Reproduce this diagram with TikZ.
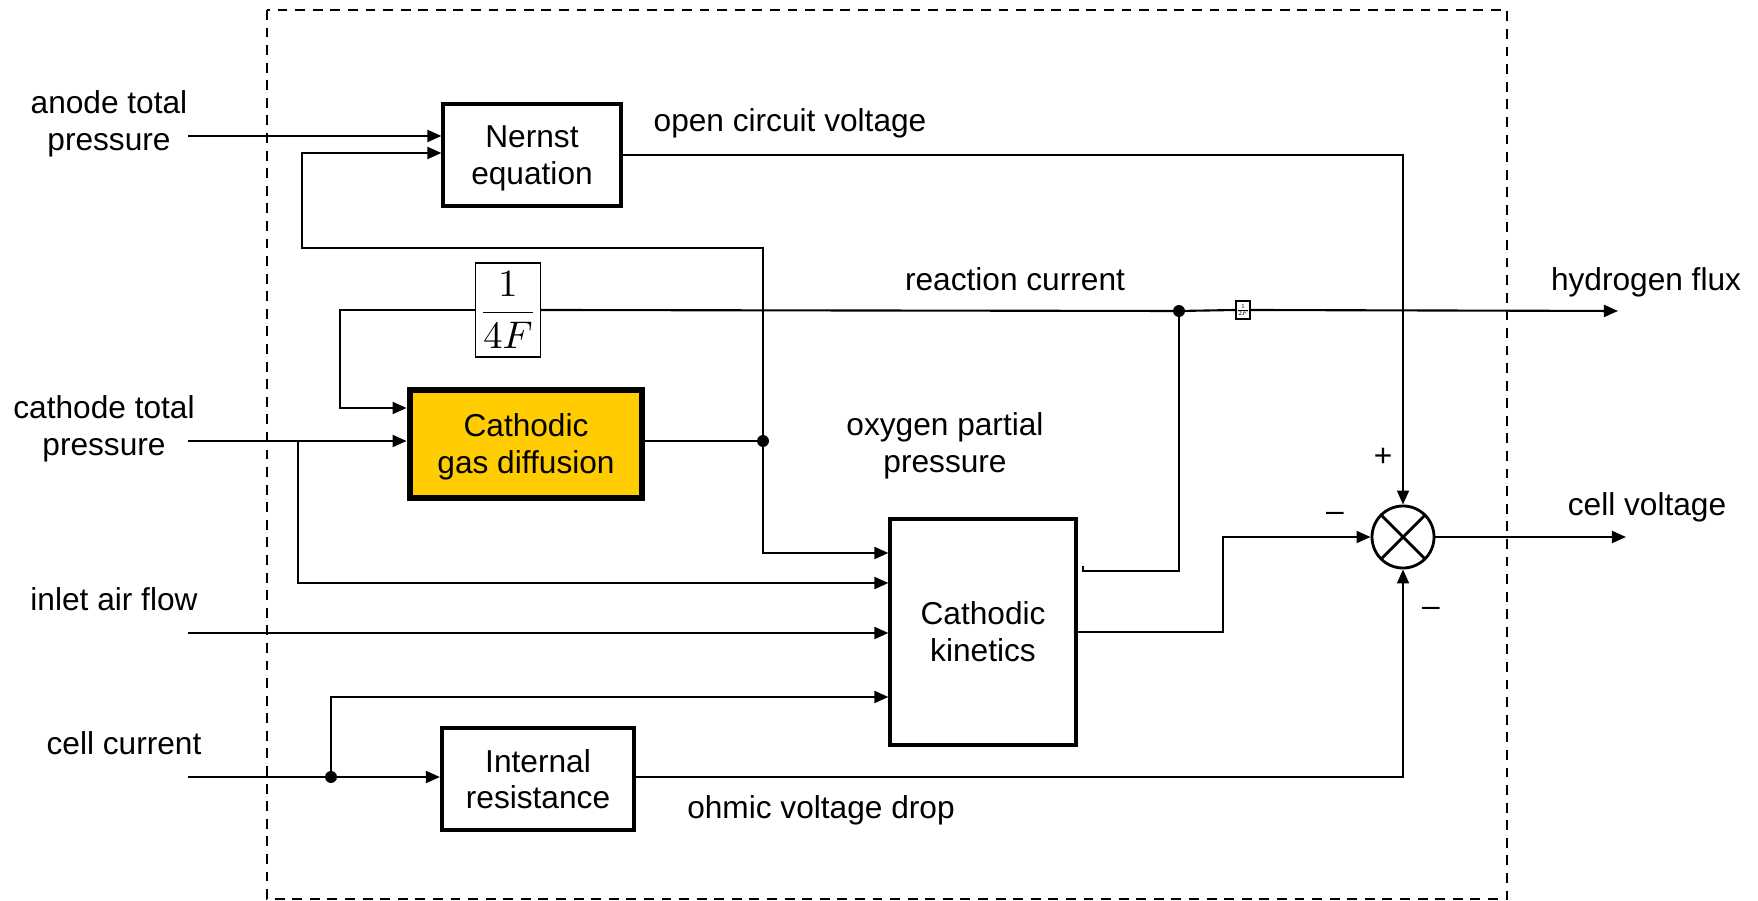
\documentclass[tikz,border=0pt]{standalone}
\usepackage{fontspec}
\setmainfont{Liberation Sans}
\usetikzlibrary{arrows.meta}
\definecolor{gold}{RGB}{255,204,0}

\begin{document}
\begin{tikzpicture}[x=0.01cm, y=-0.01cm,
    font=\fontsize{9}{10.5}\selectfont,
    line width=0.6pt,
    blk/.style={draw, line width=1.15pt, align=center, inner sep=0pt, text depth=0pt},
    arr/.style={-{Triangle[length=4pt,width=3.4pt]}},
    dot/.style={circle, fill, inner sep=0pt, minimum size=3.4pt},
    lbl/.style={align=center, inner sep=0pt, text depth=0pt},
]
\useasboundingbox (0,0) rectangle (1758,901);

% subsystem frame
\draw[dash pattern=on 2.8pt off 2.2pt] (267,10) rectangle (1507,899);

% blocks
\node[blk, minimum width=1.77cm, minimum height=1.02cm] (nernst) at (532,155) {Nernst\\equation};
\node[draw, line width=0.4pt, minimum width=0.65cm, minimum height=0.94cm, inner sep=0pt,
      font=\fontsize{11}{13}\selectfont] (gain) at (508,310) {$\displaystyle\frac{1}{4F}$};
\node[blk, line width=1.9pt, fill=gold, minimum width=2.32cm, minimum height=1.08cm] (diff) at (526,444) {Cathodic\\gas diffusion};
\node[blk, minimum width=1.85cm, minimum height=2.25cm] (kin) at (983,632) {Cathodic\\kinetics};
\node[blk, minimum width=1.92cm, minimum height=1.02cm] (ir) at (538,779) {Internal\\resistance};
\node[draw, circle, minimum size=0.62cm, line width=0.8pt,
      path picture={\draw[line width=0.8pt]
        (path picture bounding box.north west) -- (path picture bounding box.south east)
        (path picture bounding box.north east) -- (path picture bounding box.south west);}] (sum) at (1403,537) {};
\node[draw, line width=0.4pt, minimum width=0.14cm, minimum height=0.18cm, inner sep=0pt] (half) at (1243,310) {\scalebox{0.3}{$\frac{1}{2F}$}};

% labels
\node[lbl] (anodeLbl) at (109,121) {anode total\\pressure};
\node[lbl] (cathLbl) at (104,426) {cathode total\\pressure};
\node[lbl] (airLbl) at (114,599) {inlet air flow};
\node[lbl] (curLbl) at (124,743) {cell current};
\node[lbl] (ocvLbl) at (790,120) {open circuit voltage};
\node[lbl] (rcLbl) at (1015,279) {reaction current};
\node[lbl] (h2Lbl) at (1646,279) {hydrogen flux};
\node[lbl] (oxLbl) at (945,443) {oxygen partial\\pressure};
\node[lbl] (vLbl) at (1647,504) {cell voltage};
\node[lbl] (ohmLbl) at (821,807) {ohmic voltage drop};
\node[lbl] (plus) at (1383,457) {+};
\node[lbl] (minusL) at (1335,517) {\textendash};
\node[lbl] (minusB) at (1431,612) {\textendash};

% junctions and free ends
\coordinate (anodeIn) at (188,136);
\coordinate (cathIn) at (188,441);
\coordinate (airIn) at (188,633);
\coordinate (curIn) at (188,777);
\coordinate (cathTap) at (298,441);
\coordinate (kinRc) at (1083,566);
\coordinate (h2Out) at (1618,311);
\coordinate (vOut) at (1626,537);
\node[dot] (oxTap) at (763,441) {};
\node[dot] (rcTap) at (1179,311) {};
\node[dot] (curTap) at (331,777) {};

% connectors
\draw[arr] (anodeIn) -- (nernst.west |- anodeIn);
\draw[arr] (oxTap.center) -- (763,248) -- (302,248) -- (302,153) -- (nernst.west |- 0,153);
\draw[arr] (nernst.east) -| (sum.north);
\draw (rcTap.center) -- (gain.east);
\draw[arr] (gain.west) -- (340,310) -- (340,408) -- (diff.west |- 0,408);
\draw (rcTap.center) -- (half.west);
\draw[arr] (half.east) -- (h2Out);
\draw[arr] (cathIn) -- (diff.west |- cathIn);
\draw[arr] (cathTap) |- (kin.west |- 0,583);
\draw (diff.east |- oxTap) -- (oxTap.center);
\draw[arr] (oxTap.center) |- (kin.west |- 0,553);
\draw[arr] (airIn) -- (kin.west |- airIn);
\draw[arr] (curIn) -- (ir.west |- curIn);
\draw[arr] (curTap.center) |- (kin.west |- 0,697);
\draw[arr] (kin.east) -- (1223,632) |- (sum.west);
\draw (kinRc) -- (1083,571) -| (rcTap.center);
\draw[arr] (ir.east |- curTap) -| (sum.south);
\draw[arr] (sum.east) -- (vOut);

\end{tikzpicture}
\end{document}
